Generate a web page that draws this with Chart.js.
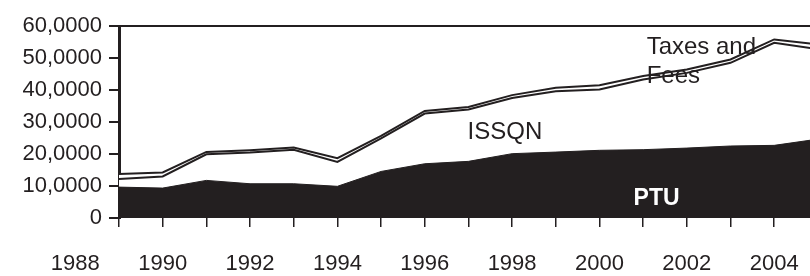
<!DOCTYPE html>
<html>
<head>
<meta charset="utf-8">
<script src="https://cdn.jsdelivr.net/npm/chart.js@4.4.1/dist/chart.umd.min.js"></script>
<style>
  html, body { margin: 0; padding: 0; background: #ffffff; }
  canvas { display: block; }
</style>
</head>
<body>
<canvas id="revenueChart" width="810" height="276"></canvas>
<script>
const years = [1989, 1990, 1991, 1992, 1993, 1994, 1995, 1996, 1997, 1998, 1999, 2000, 2001, 2002, 2003, 2004, 2005];
const ptu = [9650, 9350, 11750, 10700, 10700, 9900, 14550, 16950, 17700, 20100, 20600, 21150, 21350, 21850, 22500, 22700, 24650];
const issqn = [2550, 3650, 8150, 9750, 10650, 7600, 10350, 15700, 16200, 17400, 19000, 19000, 21950, 23500, 26000, 32050, 28150];
const taxesFees = [1550, 1250, 750, 750, 650, 1200, 750, 800, 800, 900, 1100, 1350, 1050, 1050, 1050, 1050, 1450];

const xTickYears = [1988, 1989, 1990, 1991, 1992, 1993, 1994, 1995, 1996, 1997, 1998, 1999, 2000, 2001, 2002, 2003, 2004];
const yTickValues = [0, 10000, 20000, 30000, 40000, 50000, 60000];
const yTickLabels = ['0', '10,0000', '20,0000', '30,0000', '40,0000', '50,0000', '60,0000'];

// text labels sitting inside the chart (anchored in data units)
const seriesLabels = [
    { text: 'Taxes and', x: 2001.08, y: 53400, bold: false, color: '#231f20' },
    { text: 'Fees', x: 2001.08, y: 44300, bold: false, color: '#231f20' },
    { text: 'ISSQN', x: 1996.98, y: 26800, bold: false, color: '#231f20' },
    { text: 'PTU', x: 2000.78, y: 6100, bold: true, color: '#ffffff' }
];

const ink = '#231f20';
const fontFamily = '"Liberation Sans", Arial, sans-serif';

Chart.defaults.font.family = fontFamily;
Chart.defaults.color = ink;

const toPoints = arr => arr.map((v, i) => ({ x: years[i], y: v }));

const seriesLabelPlugin = {
    id: 'seriesLabels',
    afterDatasetsDraw(chart) {
        const { ctx, scales } = chart;
        ctx.save();
        ctx.textAlign = 'left';
        ctx.textBaseline = 'middle';
        seriesLabels.forEach(l => {
            ctx.font = (l.bold ? 'bold 23px ' : '24px ') + fontFamily;
            ctx.fillStyle = l.color;
            ctx.fillText(l.text, scales.x.getPixelForValue(l.x), scales.y.getPixelForValue(l.y));
        });
        ctx.restore();
    }
};

const ctx = document.getElementById('revenueChart').getContext('2d');
new Chart(ctx, {
    type: 'line',
    data: {
        datasets: [
            {
                label: 'PTU',
                data: toPoints(ptu),
                borderColor: ink,
                backgroundColor: ink,
                borderWidth: 1,
                fill: 'origin',
                pointRadius: 0,
                tension: 0
            },
            {
                label: 'ISSQN',
                data: toPoints(issqn),
                borderColor: ink,
                backgroundColor: '#ffffff',
                borderWidth: 2,
                fill: '-1',
                pointRadius: 0,
                tension: 0
            },
            {
                label: 'Taxes and Fees',
                data: toPoints(taxesFees),
                borderColor: ink,
                backgroundColor: '#ffffff',
                borderWidth: 2,
                fill: '-1',
                pointRadius: 0,
                tension: 0
            }
        ]
    },
    options: {
        responsive: false,
        animation: false,
        layout: { autoPadding: false, padding: { top: 26, right: 0, bottom: 0, left: 0 } },
        plugins: { legend: { display: false }, tooltip: { enabled: false } },
        scales: {
            x: {
                type: 'linear',
                min: 1989,
                max: 2004.82,
                afterBuildTicks: s => { s.ticks = xTickYears.map(v => ({ value: v })); },
                afterFit: s => {
                    s.height = 58;
                    s.paddingLeft = 0;
                    s.paddingRight = 0;
                },
                border: { display: false },
                grid: {
                    drawOnChartArea: false,
                    tickLength: 9,
                    lineWidth: 1.5,
                    color: c => (c.tick && c.tick.value < years[0]) ? 'rgba(0,0,0,0)' : ink
                },
                ticks: {
                    autoSkip: false,
                    maxRotation: 0,
                    padding: 24,
                    color: ink,
                    font: { size: 22 },
                    callback: v => (v % 2 === 0 ? String(v) : '')
                }
            },
            y: {
                stacked: true,
                min: 0,
                max: 60000,
                afterBuildTicks: s => { s.ticks = yTickValues.map(v => ({ value: v })); },
                afterFit: s => { s.width = 119; },
                border: { color: ink, width: 3 },
                grid: {
                    tickLength: 10,
                    lineWidth: 2,
                    tickColor: ink,
                    color: c => (c.tick && c.tick.value === 60000) ? ink : 'rgba(0,0,0,0)'
                },
                ticks: {
                    padding: 7,
                    color: ink,
                    font: { size: 22 },
                    callback: v => yTickLabels[yTickValues.indexOf(v)]
                }
            }
        }
    },
    plugins: [seriesLabelPlugin]
});
</script>
</body>
</html>
